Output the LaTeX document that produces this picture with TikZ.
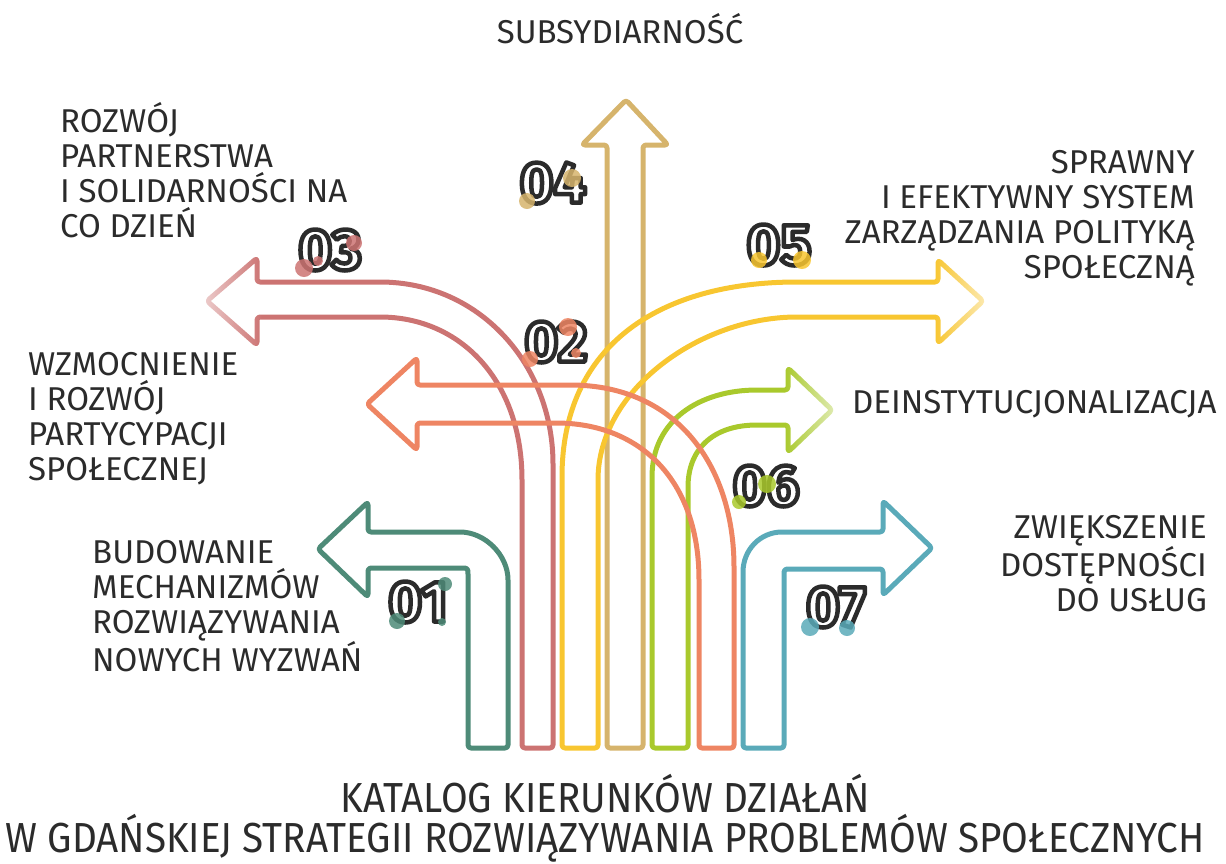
\documentclass[tikz,border=0pt]{standalone}
\usepackage{fontspec}
\usetikzlibrary{fadings}
\setmainfont{Fira Sans}
\newfontfamily\handfont{Fira Sans}
\newfontfamily\titlefont{Fira Sans}[FakeStretch=0.92]
\newfontfamily\numfont{Fira Sans Bold}
\definecolor{cGreen}{HTML}{4E8B78}
\definecolor{cRose}{HTML}{CC7372}
\definecolor{cSalmon}{HTML}{EE8563}
\definecolor{cTan}{HTML}{D6B46C}
\definecolor{cYellow}{HTML}{F8C630}
\definecolor{cLime}{HTML}{A9C92C}
\definecolor{cTeal}{HTML}{5AAAB9}
\definecolor{ink}{HTML}{2B2B2B}
% number set as white glyphs with a dark stroked rim (PDF text render mode 2)
\newcommand\rimnum[1]{\special{pdf:code q 2 Tr 4.5 w 1 j 1 1 1 rg 0.17 0.17 0.17 RG}#1\special{pdf:code Q}}
\tikzfading[name=tipfadeR, left color=transparent!100, right color=transparent!30]
\tikzfading[name=tipfadeL, left color=transparent!30, right color=transparent!100]
\tikzset{
  arrowline/.style={line width=5pt, line join=round, rounded corners=3pt},
  label/.style={font=\handfont\fontsize{33}{35}\selectfont, text=ink, inner sep=0pt},
  title/.style={font=\titlefont\fontsize{42}{40}\selectfont, text=ink, inner sep=0pt, align=center},
  numlabel/.style={font=\numfont\fontsize{58}{58}\selectfont, text=ink, inner sep=0pt},
  spot/.style={fill opacity=0.85},
}
\begin{document}
\begin{tikzpicture}[x=1pt, y=-1pt]
\useasboundingbox (0,0) rectangle (1226,863);

% 04 -- straight up
\draw[arrowline, cTan] (607,748) -- (607,145) -- (582,145) -- (626,100) -- (668,145)
  -- (643,145) -- (643,748) -- cycle;
% 05 -- long curve to the right
\draw[arrowline, cYellow] (562,748) -- (562,480) .. controls (562,345) and (660,282) .. (800,282)
  -- (938,282) -- (938,260) -- (983,301) -- (938,343) -- (938,317) -- (800,317)
  .. controls (700,317) and (598,390) .. (598,483) -- (598,748) -- cycle;
% 06 -- short curve to the right
\draw[arrowline, cLime] (652,748) -- (652,480) .. controls (652,420) and (700,390) .. (760,390)
  -- (788,390) -- (788,368) -- (832,410) -- (788,452) -- (788,425) -- (760,425)
  .. controls (712,425) and (688,450) .. (688,490) -- (688,748) -- cycle;
% 03 -- long curve to the left
\draw[arrowline, cRose] (522,748) -- (522,483) .. controls (522,380) and (460,317) .. (377,317)
  -- (257,317) -- (257,345) -- (207,301) -- (257,258) -- (257,282) -- (377,282)
  .. controls (480,282) and (553,365) .. (553,467) -- (553,748) -- cycle;
% 02 -- wide curve to the left
\draw[arrowline, cSalmon] (699,748) -- (699,583) .. controls (699,480) and (640,423) .. (553,423)
  -- (417,423) -- (417,450) -- (367,404) -- (417,358) -- (417,385) -- (567,385)
  .. controls (680,385) and (734,470) .. (734,570) -- (734,748) -- cycle;
% 01 -- sharp turn to the left
\draw[arrowline, cGreen] (468,748) -- (468,578) .. controls (468,568) .. (458,568)
  -- (368,568) -- (368,597) -- (318,549) -- (368,502) -- (368,532) -- (457,532)
  .. controls (485,532) and (508,555) .. (508,583) -- (508,748) -- cycle;
% 07 -- sharp turn to the right
\draw[arrowline, cTeal] (743,748) -- (743,575) .. controls (743,550) and (760,532) .. (785,532)
  -- (883,532) -- (883,501) -- (932,548) -- (883,595) -- (883,569) -- (794,569)
  .. controls (784,569) .. (784,579) -- (784,748) -- cycle;

% paler tips on three of the heads
\fill[white, path fading=tipfadeR] (934,252) rectangle (992,351);
\fill[white, path fading=tipfadeR] (784,360) rectangle (840,460);
\fill[white, path fading=tipfadeL] (198,250) rectangle (262,353);

% descriptions
\node[label, anchor=north] (t04) at (620,11) {\rule{0pt}{32pt}SUBSYDIARNOŚĆ};
\node[label, anchor=north west, align=left] (t03) at (60,100)
  {\rule{0pt}{32pt}ROZWÓJ\\PARTNERSTWA\\I SOLIDARNOŚCI NA\\CO DZIEŃ};
\node[label, anchor=north west, align=left] (t02) at (28,343)
  {\rule{0pt}{32pt}WZMOCNIENIE\\I ROZWÓJ\\PARTYCYPACJI\\SPOŁECZNEJ};
\node[label, anchor=north west, align=left] (t01) at (92,531)
  {\rule{0pt}{32pt}BUDOWANIE\\MECHANIZMÓW\\ROZWIĄZYWANIA\\NOWYCH WYZWAŃ};
\node[label, anchor=north east, align=right] (t05) at (1195,141)
  {\rule{0pt}{32pt}SPRAWNY\\I EFEKTYWNY SYSTEM\\ZARZĄDZANIA POLITYKĄ\\SPOŁECZNĄ};
\node[label, anchor=north west] (t06) at (852,381) {\rule{0pt}{32pt}DEINSTYTUCJONALIZACJA};
\node[label, anchor=north east, align=right] (t07) at (1207,506)
  {\rule{0pt}{32pt}ZWIĘKSZENIE\\DOSTĘPNOŚCI\\DO USŁUG};

% title
\node[title, anchor=north] (title) at (605,772)
  {\rule{0pt}{40pt}KATALOG KIERUNKÓW DZIAŁAŃ\\W GDAŃSKIEJ STRATEGII ROZWIĄZYWANIA PROBLEMÓW SPOŁECZNYCH};

% numbers and their colour spots
\node[numlabel] (n01) at (418,602) {\rimnum{01}};
\node[numlabel] (n02) at (556,342) {\rimnum{02}};
\node[numlabel] (n03) at (330,250) {\rimnum{03}};
\node[numlabel] (n04) at (553,183) {\rimnum{04}};
\node[numlabel] (n05) at (779,245) {\rimnum{05}};
\node[numlabel] (n06) at (766,486) {\rimnum{06}};
\node[numlabel] (n07) at (836,607) {\rimnum{07}};
\fill[spot, cGreen] (397,621) circle (8pt) (445,584) circle (7pt) (442,622) circle (4pt);
\fill[spot, cSalmon] (568,327) circle (9pt) (530,359) circle (8pt) (576,353) circle (5pt);
\fill[spot, cRose] (304,268) circle (9pt) (354,243) circle (8pt) (318,261) circle (5pt);
\fill[spot, cTan] (527,201) circle (8pt) (572,178) circle (9pt);
\fill[spot, cYellow] (759,260) circle (8pt) (802,260) circle (9pt);
\fill[spot, cLime] (739,502) circle (7pt) (767,484) circle (9pt);
\fill[spot, cTeal] (810,627) circle (9pt) (847,628) circle (8pt);
\end{tikzpicture}
\end{document}
